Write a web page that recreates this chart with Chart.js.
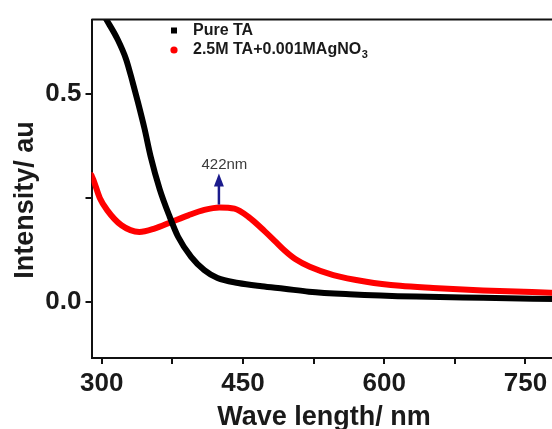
<!DOCTYPE html>
<html>
<head>
<meta charset="utf-8">
<script src="https://cdn.jsdelivr.net/npm/chart.js@4.4.1/dist/chart.umd.min.js"></script>
<style>
  html, body { margin:0; padding:0; background:#fff; overflow:hidden; }
  #wrap { width:560px; height:436px; }
</style>
</head>
<body>
<div id="wrap"><canvas id="uvChart" width="560" height="436"></canvas></div>
<script>
// values
const pureWave = [296, 305, 317, 326, 333, 338.5, 345.5, 352, 361.5, 372, 381, 395, 409, 423, 445, 470, 494, 520, 563, 634, 705, 783];
const pureInt  = [0.715, 0.680, 0.632, 0.584, 0.528, 0.481, 0.417, 0.350, 0.272, 0.206, 0.157, 0.108, 0.076, 0.057, 0.045, 0.037, 0.031, 0.024, 0.018, 0.012, 0.009, 0.006];

const agWave = [289, 291, 298, 306, 321, 340, 356, 374, 392, 409, 425, 441, 456, 473, 484, 494, 506, 521, 546, 581, 617, 652, 705, 783];
const agInt  = [0.305, 0.295, 0.250, 0.220, 0.184, 0.168, 0.176, 0.192, 0.208, 0.221, 0.227, 0.224, 0.204, 0.170, 0.146, 0.124, 0.102, 0.084, 0.064, 0.048, 0.038, 0.033, 0.027, 0.021];

const seriesNames = ['Pure TA', '2.5M TA+0.001MAgNO3'];

const xTickValues = [300, 375, 450, 525, 600, 675, 750];
const xTickLabels = ['300', '', '450', '', '600', '', '750'];
const yTickValues = [0, 0.25, 0.5];
const yTickLabels = ['0.0', '', '0.5'];

const peakLabel = '422nm';
const peakWave = 424.5;          // where the arrow sits in the picture
const peakArrow = [0.234, 0.309];

const FONT = "'Liberation Sans', Arial, sans-serif";
const INK = '#1a1a1a';

const toXY = (xs, ys) => xs.map((x, i) => ({ x, y: ys[i] }));

// top (and right) edge of the plot box
const framePlugin = {
  id: 'frame',
  afterDraw(chart) {
    const { ctx, chartArea: a } = chart;
    ctx.save();
    ctx.strokeStyle = '#111';
    ctx.lineWidth = 2;
    ctx.beginPath();
    ctx.moveTo(a.left, a.top);
    ctx.lineTo(a.right, a.top);
    ctx.lineTo(a.right, a.bottom);
    ctx.stroke();
    ctx.restore();
  }
};

// 422nm arrow over the red peak
const peakPlugin = {
  id: 'peak',
  afterDatasetsDraw(chart) {
    const { ctx } = chart;
    const xs = chart.scales.x, ys = chart.scales.y;
    const x = xs.getPixelForValue(peakWave);
    const y0 = ys.getPixelForValue(peakArrow[0]);
    const y1 = ys.getPixelForValue(peakArrow[1]);
    ctx.save();
    ctx.strokeStyle = '#1b1b8c';
    ctx.fillStyle = '#1b1b8c';
    ctx.lineWidth = 2.5;
    ctx.beginPath();
    ctx.moveTo(x, y0);
    ctx.lineTo(x, y1 + 10);
    ctx.stroke();
    ctx.beginPath();
    ctx.moveTo(x, y1);
    ctx.lineTo(x - 5, y1 + 13);
    ctx.lineTo(x + 5, y1 + 13);
    ctx.closePath();
    ctx.fill();
    ctx.fillStyle = '#3a3a3a';
    ctx.font = '15px ' + FONT;
    ctx.textAlign = 'center';
    ctx.textBaseline = 'middle';
    ctx.fillText(peakLabel, x + 5.5, y1 - 9);
    ctx.restore();
  }
};

// legend: square / dot markers, trailing digits of a formula as subscript
const legendPlugin = {
  id: 'subLegend',
  afterDraw(chart) {
    const { ctx } = chart;
    const mx = 174, tx = 193, rows = [30.5, 50];
    ctx.save();
    chart.data.datasets.forEach((ds, i) => {
      const y = rows[i];
      ctx.fillStyle = ds.borderColor;
      if (ds.pointStyle === 'rect') {
        ctx.fillRect(mx - 3, y - 3, 6, 6);
      } else {
        ctx.beginPath();
        ctx.arc(mx, y, 3.6, 0, Math.PI * 2);
        ctx.fill();
      }
      ctx.fillStyle = INK;
      ctx.textAlign = 'left';
      ctx.textBaseline = 'middle';
      ctx.font = 'bold 16px ' + FONT;
      const m = ds.label.match(/^(.*[A-Z])(\d+)$/);
      const base = m ? m[1] : ds.label;
      ctx.fillText(base, tx, y);
      if (m) {
        const w = ctx.measureText(base).width;
        ctx.font = 'bold 11px ' + FONT;
        ctx.fillText(m[2], tx + w + 0.5, y + 5);
      }
    });
    ctx.restore();
  }
};

new Chart(document.getElementById('uvChart').getContext('2d'), {
  type: 'line',
  data: {
    datasets: [
      { label: seriesNames[0], data: toXY(pureWave, pureInt), borderColor: '#000000', pointStyle: 'rect', borderWidth: 6 },
      { label: seriesNames[1], data: toXY(agWave, agInt), borderColor: '#ff0000', pointStyle: 'circle', borderWidth: 6 }
    ]
  },
  options: {
    responsive: false,
    animation: false,
    parsing: false,
    layout: { padding: { top: 17, right: 3.5, bottom: 0, left: 0 } },
    elements: {
      point: { radius: 0 },
      line: { cubicInterpolationMode: 'monotone', fill: false, borderCapStyle: 'round', borderJoinStyle: 'round' }
    },
    datasets: { line: { clip: 0 } },
    plugins: { legend: { display: false }, tooltip: { enabled: false } },
    scales: {
      x: {
        type: 'linear', min: 289.2, max: 783,
        afterBuildTicks: s => { s.ticks = xTickValues.map(v => ({ value: v })); },
        afterFit: s => { s.height = 78; },
        ticks: {
          autoSkip: false, maxRotation: 0, padding: 4, color: INK,
          font: { family: FONT, size: 26, weight: 'bold' },
          callback: v => xTickLabels[xTickValues.indexOf(v)]
        },
        grid: { drawOnChartArea: false, tickLength: 6, color: '#111', lineWidth: 2 },
        border: { color: '#111', width: 2 },
        title: { display: true, text: 'Wave length/ nm', color: INK, padding: { top: 0, bottom: 2 },
                 font: { family: FONT, size: 27, weight: 'bold' } }
      },
      y: {
        type: 'linear', min: -0.136, max: 0.68,
        afterBuildTicks: s => { s.ticks = yTickValues.map(v => ({ value: v })); },
        afterFit: s => { s.width = 91.5; },
        ticks: {
          padding: 4, color: INK,
          font: { family: FONT, size: 26, weight: 'bold' },
          callback: v => yTickLabels[yTickValues.indexOf(v)]
        },
        grid: { drawOnChartArea: false, tickLength: 6, color: '#111', lineWidth: 2 },
        border: { color: '#111', width: 2 },
        // trailing spaces push the rotated title down to where it sits in the picture
        title: { display: true, text: 'Intensity/ au   ', color: INK, padding: { top: 9, bottom: 0 },
                 font: { family: FONT, size: 27, weight: 'bold' } }
      }
    }
  },
  plugins: [framePlugin, peakPlugin, legendPlugin]
});
</script>
</body>
</html>
